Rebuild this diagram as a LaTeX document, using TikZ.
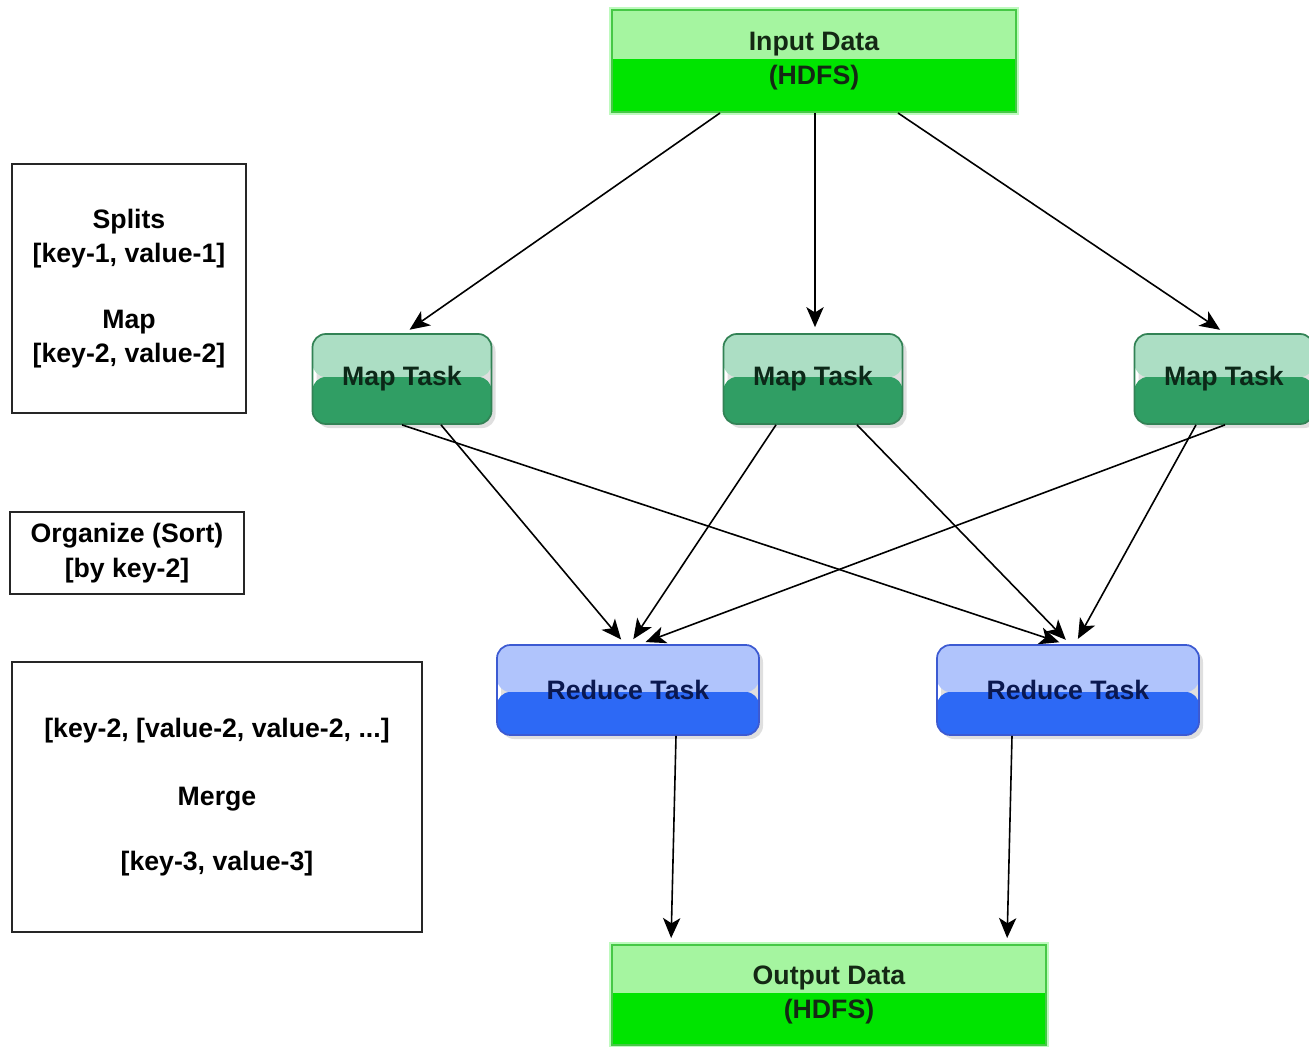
\documentclass[tikz,border=0pt]{standalone}
\usepackage{fontspec}
\setmainfont{Liberation Sans}
\usetikzlibrary{arrows.meta,shadows,calc}
\definecolor{gtop}{RGB}{165,245,160}
\definecolor{gbot}{RGB}{0,228,0}
\definecolor{gborder}{RGB}{70,200,70}
\definecolor{gglow}{RGB}{190,250,190}
\definecolor{gtext}{RGB}{20,40,20}
\definecolor{mtop}{RGB}{172,222,196}
\definecolor{mbot}{RGB}{48,158,100}
\definecolor{mborder}{RGB}{50,130,85}
\definecolor{mtext}{RGB}{12,40,24}
\definecolor{rtop}{RGB}{176,196,252}
\definecolor{rbot}{RGB}{45,105,245}
\definecolor{rborder}{RGB}{60,90,210}
\definecolor{rtext}{RGB}{10,24,80}
\begin{document}
\begin{tikzpicture}[x=0.75pt,y=-0.75pt,
  twotone/.style n args={3}{path picture={
    \fill[#1] (path picture bounding box.north west) rectangle ([yshift=#3]path picture bounding box.east);
    \fill[#2] ([yshift=#3]path picture bounding box.west) rectangle (path picture bounding box.south east);}},
  databox/.style={twotone={gtop}{gbot}{1.5pt}, draw=gborder, line width=1.5pt,
    preaction={draw=gglow, line width=5pt},
    font=\bfseries\fontsize{20}{26}\selectfont, text=gtext, align=center,
    inner sep=0pt},
  maptask/.style={twotone={mtop}{mbot}{1.5pt}, draw=mborder, line width=1.3pt,
    rounded corners=10pt, minimum width=134.25pt, minimum height=67.5pt,
    drop shadow={opacity=0.25, shadow xshift=3pt, shadow yshift=-3pt},
    font=\bfseries\fontsize{20}{26}\selectfont, text=mtext, inner sep=0pt},
  redtask/.style={twotone={rtop}{rbot}{-1.5pt}, draw=rborder, line width=1.3pt,
    rounded corners=10pt, minimum width=196.5pt, minimum height=67.5pt,
    drop shadow={opacity=0.25, shadow xshift=3pt, shadow yshift=-3pt},
    font=\bfseries\fontsize{20}{26}\selectfont, text=rtext, inner sep=0pt},
  infobox/.style={draw=black!85, line width=1.3pt, align=center,
    font=\bfseries\fontsize{20}{26}\selectfont, inner sep=0pt},
  conn/.style={draw=black, line width=1.2pt,
    -{Stealth[length=15pt,width=13pt,inset=4pt]}, shorten >=4.5pt}
]
\clip (0,0) rectangle (1309,1046);
\fill[white] (0,0) rectangle (1309,1046);

% data boxes
\node[databox, minimum width=303pt, minimum height=76.5pt] (in) at (814,61)
  {Input Data\\(HDFS)};
\node[databox, minimum width=325.5pt, minimum height=75pt] (out) at (829,995)
  {Output Data\\(HDFS)};

% map tasks
\node[maptask] (m1) at (402,379) {Map Task};
\node[maptask] (m2) at (813,379) {Map Task};
\node[maptask] (m3) at (1224,379) {Map Task};

% reduce tasks
\node[redtask] (r1) at (628,690) {Reduce Task};
\node[redtask] (r2) at (1068,690) {Reduce Task};

% info boxes
\node[infobox, minimum width=175.5pt, minimum height=186.75pt] (b1) at (129,288.5)
  {Splits\\{}[key-1, value-1]\\[23pt]Map\\{}[key-2, value-2]};
\node[infobox, minimum width=175.5pt, minimum height=61.5pt] (b2) at (127,553)
  {Organize (Sort)\\{}[by key-2]};
\node[infobox, minimum width=307.5pt, minimum height=202.5pt] (b3) at (217,797)
  {[key-2, [value-2, value-2, ...]\\[25.5pt]Merge\\[22.5pt]{}[key-3, value-3]};

% input -> maps
\draw[conn] ([xshift=-70.5pt]in.south) -- ([xshift=2pt]m1.north);
\draw[conn] ([xshift=0.75pt]in.south) -- ([xshift=1.5pt]m2.north);
\draw[conn] ([xshift=63pt]in.south) -- ([xshift=0.75pt]m3.north);

% maps -> reduces
\draw[conn] (m1.south) -- ([xshift=-2.25pt]r2.north);
\draw[conn] ([xshift=29.25pt]m1.south) -- ([xshift=-2.25pt]r1.north);
\draw[conn] ([xshift=-27.75pt]m2.south) -- ([xshift=1.5pt]r1.north);
\draw[conn] ([xshift=33pt]m2.south) -- ([xshift=1.5pt]r2.north);
\draw[conn] ([xshift=0.75pt]m3.south) -- ([xshift=9pt]r1.north);
\draw[conn] ([xshift=-21pt]m3.south) -- ([xshift=5.25pt]r2.north);

% reduces -> output
\draw[conn] ([xshift=36pt]r1.south) -- ([xshift=-118.5pt]out.north);
\draw[conn] ([xshift=-42pt]r2.south) -- ([xshift=133.5pt]out.north);
\end{tikzpicture}
\end{document}
